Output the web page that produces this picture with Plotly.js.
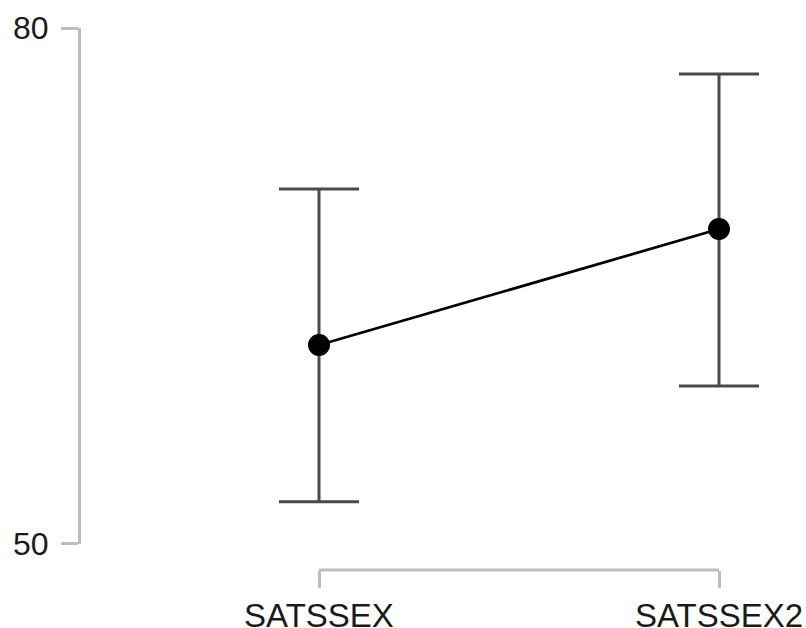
<!DOCTYPE html>
<html>
<head>
<meta charset="utf-8">
<script src="https://cdn.plot.ly/plotly-3.0.1.min.js"></script>
<style>
  html, body { margin: 0; padding: 0; background: #fff; }
  #plot { width: 806px; height: 628px; }
</style>
</head>
<body>
<div id="plot"></div>
<script>
// Descriptives: mean with 95% confidence interval per variable
const categories = ['SATSSEX', 'SATSSEX2'];
const means = [61.55, 68.30];
const ciLower = [52.43, 59.16];
const ciUpper = [70.63, 77.32];
const yTicks = [50, 80];

const W = 806, H = 628;
const marginL = 79, marginR = 0, marginT = 28, marginB = 58;
const plotW = W - marginL - marginR;
const plotH = H - marginT - marginB;

// category positions in pixels; the axis range is padded around them
const cat0Px = 319 - marginL, cat1Px = 719 - marginL;
const pxPerCat = cat1Px - cat0Px;
const xRange = [-cat0Px / pxPerCat, 1 + (plotW - cat1Px) / pxPerCat];

// y axis spans only between the lowest and highest tick
const yLowPx = 570 - 543.5;

const axisGrey = '#bdbdbd';
const textColor = '#1a1a1a';
const fontFamily = '"Liberation Sans", Arial, sans-serif';

const trace = {
  type: 'scatter',
  mode: 'lines+markers',
  x: categories,
  y: means,
  cliponaxis: false,
  line: { color: '#000000', width: 2.7 },
  marker: { color: '#000000', size: 22 },
  error_y: {
    type: 'data',
    symmetric: false,
    array: means.map((m, i) => ciUpper[i] - m),
    arrayminus: means.map((m, i) => m - ciLower[i]),
    color: '#4a4a4a',
    thickness: 3,
    width: 40
  },
  hoverinfo: 'skip',
  showlegend: false
};

const layout = {
  width: W,
  height: H,
  margin: { l: marginL, r: marginR, t: marginT, b: marginB, pad: 0 },
  paper_bgcolor: '#ffffff',
  plot_bgcolor: '#ffffff',
  font: { family: fontFamily, color: textColor, size: 33 },
  xaxis: {
    type: 'category',
    domain: [0, 1],
    range: xRange,
    anchor: 'free',
    position: 0,
    showgrid: false,
    zeroline: false,
    showline: false,
    ticks: 'outside',
    ticklen: 17,
    tickwidth: 3,
    tickcolor: axisGrey,
    ticklabelstandoff: -1,
    tickfont: { family: fontFamily, size: 33, color: textColor },
    fixedrange: true
  },
  yaxis: {
    domain: [yLowPx / plotH, 1],
    range: [yTicks[0], yTicks[yTicks.length - 1]],
    anchor: 'free',
    position: 0,
    tickmode: 'array',
    tickvals: yTicks,
    ticktext: yTicks.map(String),
    showgrid: false,
    zeroline: false,
    showline: true,
    linecolor: axisGrey,
    linewidth: 3,
    ticks: 'outside',
    ticklen: 17,
    tickwidth: 3,
    tickcolor: axisGrey,
    ticklabelstandoff: 6,
    tickfont: { family: fontFamily, size: 32, color: textColor },
    fixedrange: true
  },
  // x axis line drawn only between the first and last category
  shapes: [{
    type: 'line',
    xref: 'x', yref: 'paper',
    x0: 0, x1: 1, y0: 0, y1: 0,
    line: { color: axisGrey, width: 3 },
    layer: 'above'
  }]
};

Plotly.newPlot('plot', [trace], layout, { staticPlot: true, displayModeBar: false });
</script>
</body>
</html>
